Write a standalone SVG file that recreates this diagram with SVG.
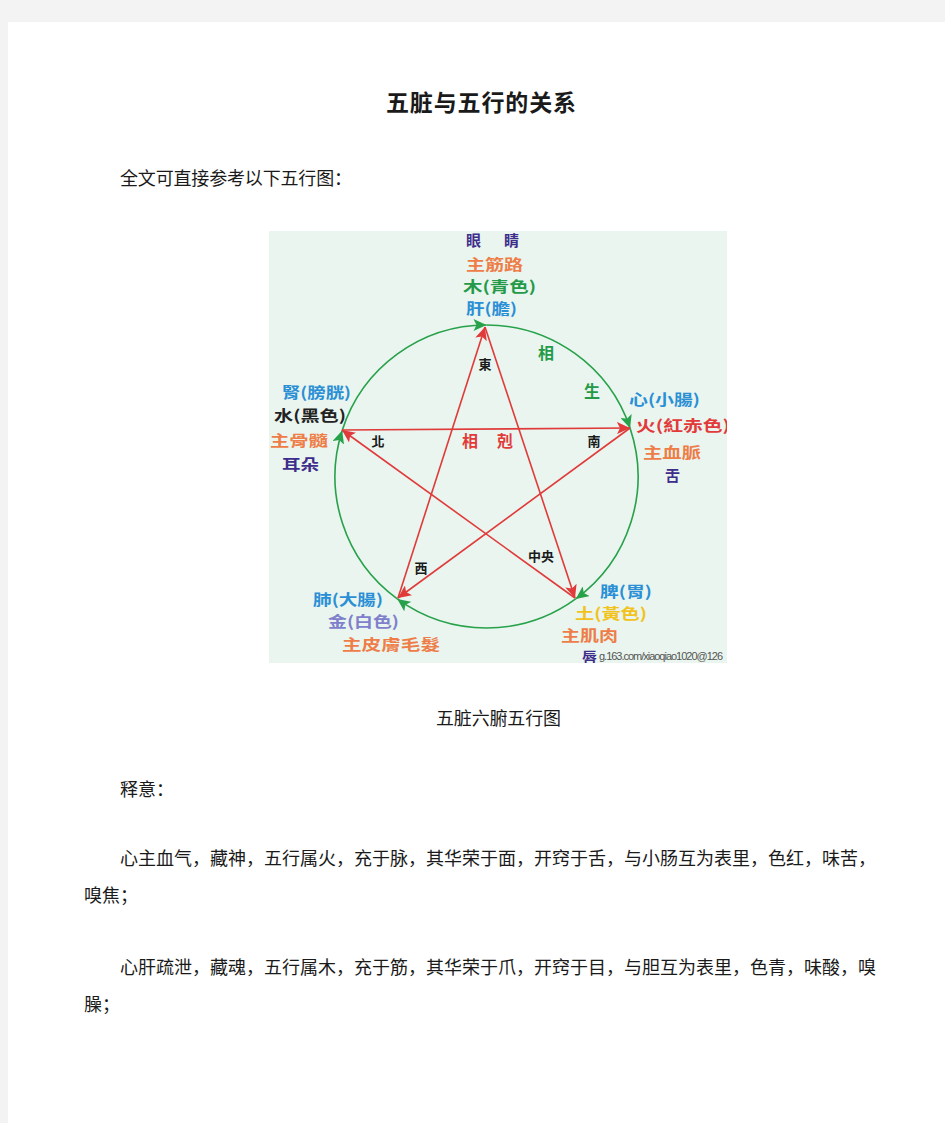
<svg xmlns="http://www.w3.org/2000/svg" width="945" height="1123" viewBox="0 0 945 1123">
<style>
.body{font-family:"Noto Sans CJK SC","Noto Sans CJK TC",sans-serif;font-size:18px;fill:#1a1a1a}
.title{font-family:"Noto Sans CJK SC",sans-serif;font-size:23px;font-weight:bold;fill:#1a1a1a}
.lb{font-family:"Noto Sans CJK TC","Noto Sans CJK SC",sans-serif;font-size:15px;font-weight:bold}
.big{font-size:16px}
.dir{font-family:"Noto Sans CJK TC","Noto Sans CJK SC",sans-serif;font-size:13px;font-weight:bold;fill:#1a1a1a}
.pu{fill:#3f2d8c}.or{fill:#ee7d48}.gr{fill:#249a48}.bl{fill:#2b8fd6}.bk{fill:#222}.rd{fill:#e23a3a}.lv{fill:#7f7fcc}.ye{fill:#f2c21d}
.sheng{fill:none;stroke:#27a14a;stroke-width:1.6}
.ke{fill:none;stroke:#e03a3a;stroke-width:1.6}
.wm{font-family:"Liberation Sans",sans-serif;font-size:11px;fill:#555}
</style>
<defs>
<marker id="ag" markerUnits="userSpaceOnUse" markerWidth="16" markerHeight="12" refX="13" refY="6" orient="auto"><path d="M0,0 L13,6 L0,12 L3,6 Z" fill="#27a14a"/></marker>
<marker id="ar" markerUnits="userSpaceOnUse" markerWidth="16" markerHeight="12" refX="13" refY="6" orient="auto"><path d="M0,0 L13,6 L0,12 L3,6 Z" fill="#e03a3a"/></marker>
<clipPath id="dc"><rect x="269" y="231" width="458" height="432"/></clipPath>
</defs>
<rect width="945" height="1123" fill="#f3f3f3"/>
<rect x="8" y="22" width="937" height="1101" fill="#ffffff"/>
<text class="title" x="386" y="110.5" textLength="190">五脏与五行的关系</text>
<text class="body" x="120" y="185" textLength="232">全文可直接参考以下五行图：</text>

<g id="diagram" clip-path="url(#dc)">
<rect x="269" y="231" width="458" height="432" fill="#e9f5ee"/>
<g id="connectors">
<path class="sheng" d="M486.5,325 A151.5,151.5 0 0 1 630.1,428.2" marker-end="url(#ag)"/>
<path class="sheng" d="M630.1,428.2 A151.5,151.5 0 0 1 575.7,598.9" marker-end="url(#ag)"/>
<path class="sheng" d="M575.7,598.9 A151.5,151.5 0 0 1 397.3,598.9" marker-end="url(#ag)"/>
<path class="sheng" d="M397.3,598.9 A151.5,151.5 0 0 1 342.2,430.4" marker-end="url(#ag)"/>
<path class="sheng" d="M342.2,430.4 A151.5,151.5 0 0 1 486.5,325" marker-end="url(#ag)"/>
<line class="ke" x1="485" y1="327" x2="575" y2="598" marker-end="url(#ar)"/>
<line class="ke" x1="575" y1="598" x2="342" y2="430" marker-end="url(#ar)"/>
<line class="ke" x1="342" y1="430" x2="630" y2="428" marker-end="url(#ar)"/>
<line class="ke" x1="630" y1="428" x2="398" y2="598" marker-end="url(#ar)"/>
<line class="ke" x1="398" y1="598" x2="485" y2="327" marker-end="url(#ar)"/>
</g>
<g id="wood">
<text class="lb pu" x="466" y="246" textLength="53">眼　睛</text>
<text class="lb or" x="466" y="269.5" textLength="57" lengthAdjust="spacingAndGlyphs">主筋路</text>
<text class="lb gr" x="463" y="291.5" textLength="73" lengthAdjust="spacingAndGlyphs">木(青色)</text>
<text class="lb bl" x="466" y="314" textLength="51" lengthAdjust="spacingAndGlyphs">肝(膽)</text>
</g>
<g id="water">
<text class="lb bl" x="282" y="398" textLength="69" lengthAdjust="spacingAndGlyphs">腎(膀胱)</text>
<text class="lb bk" x="274" y="420.5" textLength="72" lengthAdjust="spacingAndGlyphs">水(黑色)</text>
<text class="lb or" x="270" y="445.5" textLength="58" lengthAdjust="spacingAndGlyphs">主骨髓</text>
<text class="lb pu" x="282" y="469.5" textLength="37" lengthAdjust="spacingAndGlyphs">耳朵</text>
</g>
<g id="fire">
<text class="lb bl" x="629" y="405" textLength="71" lengthAdjust="spacingAndGlyphs">心(小腸)</text>
<text class="lb rd" x="636" y="431" textLength="94" lengthAdjust="spacingAndGlyphs">火(紅赤色)</text>
<text class="lb or" x="643" y="457.5" textLength="58" lengthAdjust="spacingAndGlyphs">主血脈</text>
<text class="lb pu" x="665" y="480.5">舌</text>
</g>
<g id="metal">
<text class="lb bl" x="313" y="605" textLength="70" lengthAdjust="spacingAndGlyphs">肺(大腸)</text>
<text class="lb lv" x="328" y="627" textLength="71" lengthAdjust="spacingAndGlyphs">金(白色)</text>
<text class="lb or" x="342" y="649.5" textLength="98" lengthAdjust="spacingAndGlyphs">主皮膚毛髮</text>
</g>
<g id="earth">
<text class="lb bl" x="600" y="596.5" textLength="52" lengthAdjust="spacingAndGlyphs">脾(胃)</text>
<text class="lb ye" x="575" y="618.5" textLength="72" lengthAdjust="spacingAndGlyphs">土(黃色)</text>
<text class="lb or" x="561" y="640.5" textLength="57" lengthAdjust="spacingAndGlyphs">主肌肉</text>
<text class="lb pu" x="582" y="662.5">唇</text>
<text class="wm" x="599" y="660" textLength="124">g.163.com/xiaoqiao1020@126</text>
</g>
<g id="labels">
<text class="dir" x="485" y="369" text-anchor="middle">東</text>
<text class="dir" x="378" y="446" text-anchor="middle">北</text>
<text class="dir" x="594" y="446" text-anchor="middle">南</text>
<text class="dir" x="421" y="573" text-anchor="middle">西</text>
<text class="dir" x="541" y="561" text-anchor="middle">中央</text>
<text class="lb big gr" x="546" y="359" text-anchor="middle">相</text>
<text class="lb big gr" x="592" y="397" text-anchor="middle">生</text>
<text class="lb big rd" x="470" y="447" text-anchor="middle">相</text>
<text class="lb big rd" x="505" y="447" text-anchor="middle">剋</text>
</g>
</g>

<text class="body" x="436" y="725" textLength="125">五脏六腑五行图</text>
<text class="body" x="120" y="796">释意：</text>
<text class="body" x="120" y="865" textLength="756">心主血气，藏神，五行属火，充于脉，其华荣于面，开窍于舌，与小肠互为表里，色红，味苦，</text>
<text class="body" x="84" y="902">嗅焦；</text>
<text class="body" x="120" y="974" textLength="756">心肝疏泄，藏魂，五行属木，充于筋，其华荣于爪，开窍于目，与胆互为表里，色青，味酸，嗅</text>
<text class="body" x="84" y="1011">臊；</text>
</svg>
